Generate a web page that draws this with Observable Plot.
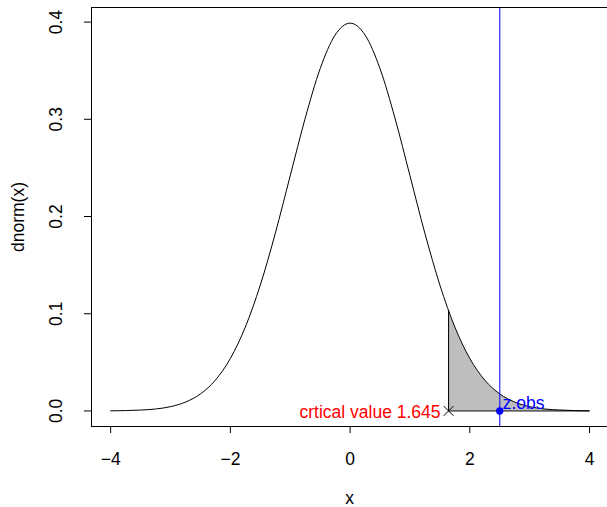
<!DOCTYPE html>
<html>
<head>
<meta charset="utf-8">
<script src="https://cdn.jsdelivr.net/npm/d3@7"></script>
<script src="https://cdn.jsdelivr.net/npm/@observablehq/plot@0.6"></script>
<style>
  html, body { margin: 0; padding: 0; background: #fff; overflow: hidden; }
  #chart svg { display: block; }
</style>
</head>
<body>
<div id="chart"></div>
<script>
// Density curve points
const curveX = [-4,-3.75,-3.5,-3.25,-3,-2.75,-2.5,-2.25,-2,-1.75,-1.5,-1.25,-1,-0.75,-0.5,-0.25,0,0.25,0.5,0.75,1,1.25,1.5,1.75,2,2.25,2.5,2.75,3,3.25,3.5,3.75,4];
const curveY = [0.0001,0.0004,0.0009,0.0020,0.0044,0.0091,0.0175,0.0317,0.0540,0.0863,0.1295,0.1826,0.2420,0.3011,0.3521,0.3867,0.3989,0.3867,0.3521,0.3011,0.2420,0.1826,0.1295,0.0863,0.0540,0.0317,0.0175,0.0091,0.0044,0.0020,0.0009,0.0004,0.0001];

// Shaded right tail (rejection region)
const tailX = [1.645,1.75,2,2.25,2.5,2.75,3,3.25,3.5,3.75,4];
const tailY = [0.1031,0.0863,0.0540,0.0317,0.0175,0.0091,0.0044,0.0020,0.0009,0.0004,0.0001];

const critical = [1.645];
const criticalHeight = [0.1031];
const zObs = [2.5];
const criticalLabel = ["crtical value 1.645"];
const zObsLabel = ["z.obs"];

const xTicks = [-4, -2, 0, 2, 4];
const yTicks = [0, 0.1, 0.2, 0.3, 0.4];
const xTitle = ["x"];
const yTitle = ["dnorm(x)"];

const curve = curveX.map((x, i) => ({x, y: curveY[i]}));
const tail = tailX.map((x, i) => ({x, y: tailY[i]}));

const FS = 17.5;
const xDomain = [-4.32, 4.3];
const yDomain = [-0.016, 0.415];

const chart = Plot.plot({
  width: 607,
  height: 507,
  marginLeft: 91,
  marginRight: 0,
  marginTop: 7,
  marginBottom: 81,
  style: {fontFamily: "'Liberation Sans', Arial, Helvetica, sans-serif", fontSize: FS + "px", background: "#fff"},
  x: {domain: xDomain},
  y: {domain: yDomain},
  marks: [
    Plot.areaY(tail, {x: "x", y1: 0, y2: "y", fill: "#BEBEBE", curve: "monotone-x"}),
    Plot.line(curve, {x: "x", y: "y", stroke: "black", strokeWidth: 1, curve: "monotone-x"}),
    Plot.ruleX(critical, {x: d => d, y1: 0, y2: criticalHeight[0], stroke: "black", strokeWidth: 1}),
    Plot.ruleY([0], {x1: critical[0], x2: tailX[tailX.length - 1], stroke: "black", strokeWidth: 1}),
    Plot.ruleX(zObs, {stroke: "blue", strokeWidth: 1.2, strokeOpacity: 0.85}),
    Plot.dot(critical, {x: d => d, y: 0, symbol: "times", r: 4.5, stroke: "black", strokeWidth: 1}),
    Plot.dot(zObs, {x: d => d, y: 0, r: 3.7, fill: "blue", stroke: "none"}),
    Plot.text(criticalLabel, {x: critical[0], y: 0, text: d => d, textAnchor: "end", dx: -8, dy: 1.5, fill: "red", fontSize: FS}),
    Plot.text(zObsLabel, {x: zObs[0], y: 0, text: d => d, textAnchor: "start", lineAnchor: "bottom", dx: 3, dy: -1.5, fill: "blue", fontSize: FS}),
    // box (top, left, bottom)
    Plot.ruleX([xDomain[0]], {stroke: "black", strokeWidth: 1}),
    Plot.ruleY([yDomain[1]], {stroke: "black", strokeWidth: 1}),
    Plot.ruleY([yDomain[0]], {stroke: "black", strokeWidth: 1}),
    // axes
    Plot.axisX({ticks: xTicks, tickSize: 7, tickPadding: 19, tickFormat: d3.format("d"), label: null, fontSize: FS}),
    Plot.axisY({ticks: yTicks, tickSize: 7, tickFormat: () => "", label: null}),
    Plot.text(yTicks, {y: d => d, frameAnchor: "left", text: d3.format(".1f"), rotate: -90, textAnchor: "middle", dx: -35, fontSize: FS}),
    Plot.text(xTitle, {frameAnchor: "bottom", text: d => d, lineAnchor: "bottom", dy: 77, fontSize: FS}),
    Plot.text(yTitle, {frameAnchor: "left", text: d => d, rotate: -90, textAnchor: "middle", dx: -73, fontSize: FS})
  ]
});
document.getElementById("chart").appendChild(chart);
</script>
</body>
</html>
